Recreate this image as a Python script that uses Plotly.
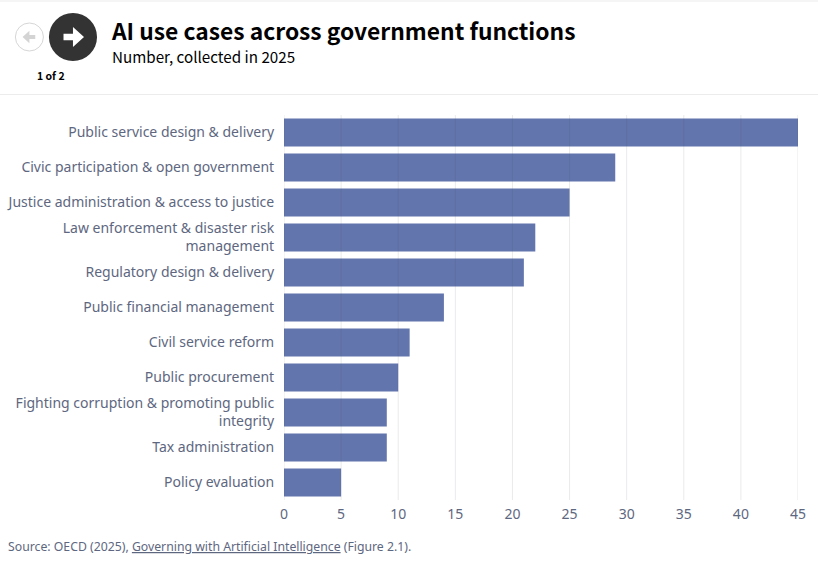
import plotly.graph_objects as go

categories = ["Public service design & delivery", "Civic participation & open government",
              "Justice administration & access to justice", "Law enforcement & disaster risk<br>management",
              "Regulatory design & delivery", "Public financial management", "Civil service reform",
              "Public procurement", "Fighting corruption & promoting public<br>integrity",
              "Tax administration", "Policy evaluation"]
values = [45, 29, 25, 22, 21, 14, 11, 10, 9, 9, 5]
x_ticks = [0, 5, 10, 15, 20, 25, 30, 35, 40, 45]

W, H = 818, 562
L, R, T, B = 284.4, 797.6, 115, 500
TXT = "#5e6780"
HEAD = "Noto Sans CJK SC"
BODY = "Noto Sans"

def fx(p):
    return (p - L) / (R - L)

def fy(p):
    return (B - p) / (B - T)

def path(points):
    return "M " + " L ".join(f"{fx(a):.5f},{fy(b):.5f}" for a, b in points) + " Z"

def arrow(cx, cy, s):
    pts = [(-9, -3.2), (0, -3.2), (0, -9.5), (10.5, 0), (0, 9.5), (0, 3.2), (-9, 3.2)]
    return [(cx + s * a, cy + s * b) for a, b in pts]

def circle(cx, cy, r, fill, line, width):
    return dict(type="circle", xref="paper", yref="paper", x0=fx(cx - r), x1=fx(cx + r),
                y0=fy(cy + r), y1=fy(cy - r), fillcolor=fill, line=dict(color=line, width=width))

shapes = [
    dict(type="rect", xref="paper", yref="paper", x0=fx(0), x1=fx(W), y0=fy(2), y1=fy(0),
         fillcolor="#f5f5f5", line_width=0),
    dict(type="line", xref="paper", yref="paper", x0=fx(0), x1=fx(W), y0=fy(94.5), y1=fy(94.5),
         line=dict(color="#ececec", width=1)),
    circle(30.2, 37, 14, "#ffffff", "#d6d6d6", 1),
    circle(73.7, 37, 24, "#333333", "#333333", 0),
    dict(type="path", xref="paper", yref="paper", path=path([(2 * 30.2 - a, b) for a, b in arrow(30.2, 37, 0.65)]),
         fillcolor="#d4d4d4", line_width=0),
    dict(type="path", xref="paper", yref="paper", path=path(arrow(73.7, 37, 1.05)),
         fillcolor="#ffffff", line_width=0),
]
shapes += [dict(type="line", xref="x", yref="paper", x0=t, x1=t, y0=0, y1=1, layer="above",
                line=dict(color="rgba(60,60,80,0.11)", width=1)) for t in x_ticks]

def text(x, y, s, size, color, font, anchor="left"):
    return dict(xref="paper", yref="paper", x=fx(x), y=fy(y), text=s, showarrow=False, xanchor=anchor,
                yanchor="middle", font=dict(size=size, color=color, family=font))

annotations = [
    text(109.5, 31, "<b>AI use cases across government functions</b>", 22.8, "#000000", HEAD),
    text(111, 56.5, "Number, collected in 2025", 15.2, "#000000", HEAD),
    text(52, 75.5, "<b>1 of 2</b>", 10.5, "#000000", HEAD, "center"),
    text(6.5, 546, "Source: OECD (2025), <u>Governing with Artificial Intelligence</u> (Figure 2.1).", 12.25, TXT, BODY),
]

fig = go.Figure(go.Bar(x=values, y=categories, orientation="h", width=0.8,
                       marker=dict(color="#4c62a0", opacity=0.88, line_width=0)))
fig.update_layout(
    width=W, height=H, autosize=False, margin=dict(l=L, r=W - R, t=T, b=H - B, pad=0, autoexpand=False),
    paper_bgcolor="white", plot_bgcolor="white", showlegend=False,
    font=dict(family=BODY, color=TXT, size=14), shapes=shapes, annotations=annotations,
)
fig.update_xaxes(range=[0, 45], tickvals=x_ticks, showgrid=False, automargin=False,
                 zeroline=False, showline=False, ticks="outside", ticklen=1, tickcolor="rgba(0,0,0,0)",
                 tickfont=dict(size=14, color=TXT))
fig.update_yaxes(autorange=False, range=[10.5, -0.5], categoryorder="array", categoryarray=categories, showgrid=False,
                 zeroline=False, showline=False, ticks="outside", ticklen=6, tickcolor="rgba(0,0,0,0)", automargin=False,
                 tickfont=dict(size=14, color=TXT))
fig.write_html("out.html", config={"displayModeBar": False}, post_script="document.body.style.margin='0';")
